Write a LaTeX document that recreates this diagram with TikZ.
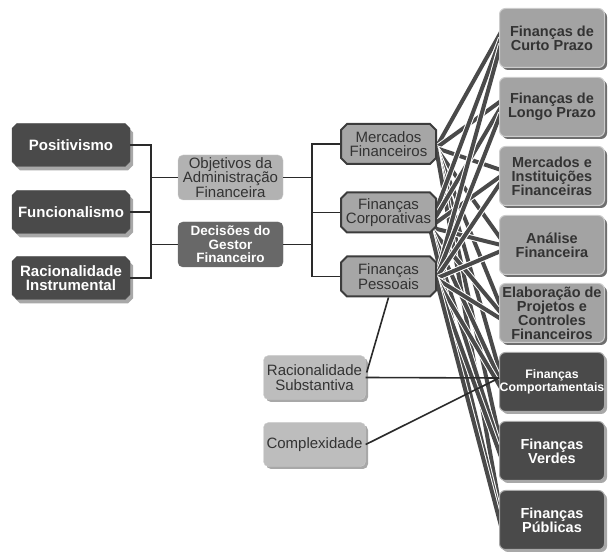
\documentclass[tikz,border=0pt]{standalone}
\usepackage{fontspec}
\setmainfont{Liberation Sans}
\usetikzlibrary{shapes.misc,shadows,calc}
\definecolor{cDark}{HTML}{4A4A4A}
\definecolor{cShadeL}{HTML}{A8A8A8}
\definecolor{cMid}{HTML}{A6A6A6}
\definecolor{cBorder}{HTML}{3C3C3C}
\definecolor{cObj}{HTML}{B2B2B2}
\definecolor{cDec}{HTML}{686868}
\definecolor{cLight}{HTML}{BDBDBD}
\definecolor{cRight}{HTML}{A3A3A3}
\definecolor{cRightEdge}{HTML}{CCCCCC}
\definecolor{cShadeD}{HTML}{6E6E6E}
\definecolor{cText}{HTML}{333333}
\definecolor{cLine}{HTML}{2A2A2A}
\pgfdeclarelayer{bg}
\pgfsetlayers{bg,main}
\begin{document}
\begin{tikzpicture}[x=1pt,y=-1pt,
  base/.style={inner sep=0pt, align=center},
  leftbox/.style={base, chamfered rectangle, chamfered rectangle xsep=2.5pt, chamfered rectangle ysep=2.5pt,
    fill=cDark, draw=cDark, text=white, font=\bfseries\fontsize{15}{14}\selectfont,
    minimum width=118pt, minimum height=43pt,
    drop shadow={shadow xshift=3pt, shadow yshift=-4pt, fill=cShadeL, opacity=1}},
  midbox/.style={base, chamfered rectangle, chamfered rectangle xsep=3pt, chamfered rectangle ysep=3pt,
    fill=cMid, draw=cBorder, line width=2pt, text=cText, font=\fontsize{15}{14.5}\selectfont,
    minimum width=95pt, minimum height=40pt},
  objbox/.style={base, rounded corners=5pt, fill=cObj, draw=cRightEdge, text=cText,
    font=\fontsize{15}{14.5}\selectfont, minimum width=105pt, minimum height=45pt},
  decbox/.style={base, rounded corners=5pt, fill=cDec, draw=cDec, text=white,
    font=\bfseries\fontsize{13.5}{13.5}\selectfont, minimum width=105pt, minimum height=45pt},
  lowbox/.style={base, rounded corners=5pt, fill=cLight, draw=cRightEdge, text=cText,
    font=\fontsize{15}{14.5}\selectfont, minimum width=102pt, minimum height=44pt,
    drop shadow={shadow xshift=2.5pt, shadow yshift=-2.5pt, fill=cShadeL, opacity=1}},
  rlight/.style={base, rounded corners=6pt, fill=cRight, draw=cRightEdge, line width=1pt, text=cText,
    font=\bfseries\fontsize{14.5}{14}\selectfont, minimum width=105pt, minimum height=59pt,
    drop shadow={shadow xshift=2.5pt, shadow yshift=-2.5pt, fill=cShadeD, opacity=1}},
  rdark/.style={base, rounded corners=6pt, fill=cDark, draw=cShadeL, line width=1pt, text=white,
    font=\bfseries\fontsize{14.5}{14}\selectfont, minimum width=105pt, minimum height=59pt,
    drop shadow={shadow xshift=2.5pt, shadow yshift=-2.5pt, fill=cShadeL, opacity=1}},
  small/.style={font=\bfseries\fontsize{12.3}{12.5}\selectfont},
  conn/.style={draw=cLine, line width=1.6pt},
  web/.style={draw=cDark, line width=4pt, preaction={draw=white, line width=6pt}}
]
\useasboundingbox (0,0) rectangle (614,553);

% left column
\node[leftbox] (pos) at (71,145) {Positivismo};
\node[leftbox] (fun) at (71,212) {Funcionalismo};
\node[leftbox] (rac) at (71,278) {Racionalidade\\Instrumental};

% second column
\node[objbox] (obj) at (230.5,177.5) {Objetivos da\\Administração\\Financeira};
\node[decbox] (dec) at (230.5,244.5) {Decisões do\\Gestor\\Financeiro};

% middle column
\node[midbox] (merc) at (388.5,144) {Mercados\\Financeiros};
\node[midbox] (corp) at (388.5,212.5) {Finanças\\Corporativas};
\node[midbox] (pess) at (388.5,276.5) {Finanças\\Pessoais};

% lower boxes
\node[lowbox] (rsub) at (314.5,377.5) {Racionalidade\\Substantiva};
\node[lowbox] (cplx) at (314.5,444.5) {Complexidade};

% right column
\node[rlight] (r1) at (552,38) {Finanças de\\Curto Prazo};
\node[rlight] (r2) at (552,107) {Finanças de\\Longo Prazo};
\node[rlight] (r3) at (552,176) {Mercados e\\Instituições\\Financeiras};
\node[rlight] (r4) at (552,245) {Análise\\Financeira};
\node[rlight] (r5) at (552,313) {Elaboração de\\Projetos e\\Controles\\Financeiros};
\node[rdark, small] (r6) at (552,382) {Finanças\\Comportamentais};
\node[rdark] (r7) at (552,451) {Finanças\\Verdes};
\node[rdark] (r8) at (552,520) {Finanças\\Públicas};

% brackets
\coordinate (j1) at (151,0);
\coordinate (j2) at (312,0);
\draw[conn] (pos.east) -| (j1 |- rac.east) -- (rac.east);
\draw[conn] (fun.east) -- (j1 |- fun.east);
\draw[conn] (j1 |- obj.west) -- (obj.west);
\draw[conn] (j1 |- dec.west) -- (dec.west);
\draw[conn] (merc.west) -| (j2 |- pess.west) -- (pess.west);
\draw[conn] (corp.west) -- (j2 |- corp.west);
\draw[conn] (obj.east) -- (j2 |- obj.east);
\draw[conn] (dec.east) -- (j2 |- dec.east);

% thin lines
\coordinate (r6in) at ($(r6.west)+(0,-4)$);
\draw[conn] (pess.south) -- ($(rsub.east)+(1,-5)$);
\draw[conn] (rsub.east) -- (r6in);
\draw[conn] (cplx.east) -- (r6in);

% web of thick lines
\coordinate (sm) at ($(merc.east)+(-1,4)$);
\coordinate (sc) at ($(corp.south east)+(-4,-3)$);
\coordinate (sp) at ($(pess.east)+(-1,2)$);
\begin{pgfonlayer}{bg}
\foreach \s/\o in {sm/-6, sc/0, sp/6}{
  \foreach \t in {r1,r2,r3,r4,r5,r6,r7,r8}{
    \draw[web] (\s) -- ($(\t.west)+(2,\o)$);
  }
}
\end{pgfonlayer}
\end{tikzpicture}
\end{document}
